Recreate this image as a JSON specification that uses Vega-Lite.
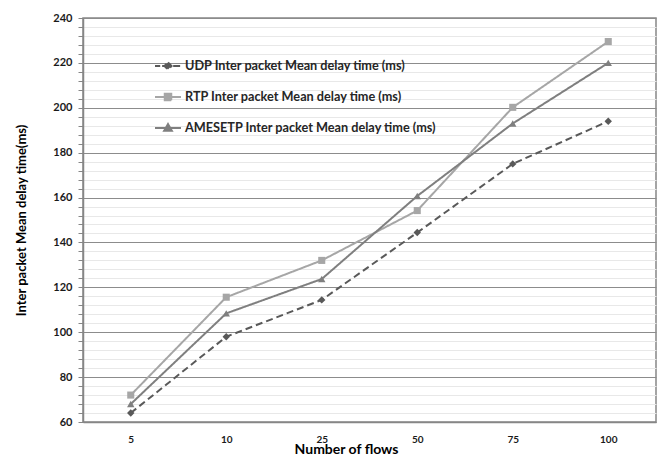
{
  "$schema": "https://vega.github.io/schema/vega-lite/v6.json",
  "width": 573,
  "height": 404,
  "autosize": {"type": "none"},
  "padding": {"left": 83, "top": 18, "right": 6, "bottom": 33},
  "background": "white",
  "config": {"view": {"stroke": "#868686", "strokeWidth": 1.5}, "font": "Lato"},
  "data": {"values": [
    {"flows": "5", "series": "UDP Inter packet Mean delay time (ms)", "delay": 64},
    {"flows": "10", "series": "UDP Inter packet Mean delay time (ms)", "delay": 98},
    {"flows": "25", "series": "UDP Inter packet Mean delay time (ms)", "delay": 114.4},
    {"flows": "50", "series": "UDP Inter packet Mean delay time (ms)", "delay": 144.4},
    {"flows": "75", "series": "UDP Inter packet Mean delay time (ms)", "delay": 175},
    {"flows": "100", "series": "UDP Inter packet Mean delay time (ms)", "delay": 194},
    {"flows": "5", "series": "RTP Inter packet Mean delay time (ms)", "delay": 72},
    {"flows": "10", "series": "RTP Inter packet Mean delay time (ms)", "delay": 115.6},
    {"flows": "25", "series": "RTP Inter packet Mean delay time (ms)", "delay": 132},
    {"flows": "50", "series": "RTP Inter packet Mean delay time (ms)", "delay": 154.2},
    {"flows": "75", "series": "RTP Inter packet Mean delay time (ms)", "delay": 200.2},
    {"flows": "100", "series": "RTP Inter packet Mean delay time (ms)", "delay": 229.5},
    {"flows": "5", "series": "AMESETP Inter packet Mean delay time (ms)", "delay": 68},
    {"flows": "10", "series": "AMESETP Inter packet Mean delay time (ms)", "delay": 108.4},
    {"flows": "25", "series": "AMESETP Inter packet Mean delay time (ms)", "delay": 123.7},
    {"flows": "50", "series": "AMESETP Inter packet Mean delay time (ms)", "delay": 160.7},
    {"flows": "75", "series": "AMESETP Inter packet Mean delay time (ms)", "delay": 193},
    {"flows": "100", "series": "AMESETP Inter packet Mean delay time (ms)", "delay": 220}
  ]},
  "encoding": {
    "x": {
      "field": "flows", "type": "ordinal",
      "sort": ["5", "10", "25", "50", "75", "100"],
      "scale": {"type": "point", "padding": 0.5},
      "axis": {
        "title": "Number of flows", "labelAngle": 0, "ticks": false,
        "labelFontWeight": "bold", "labelFontSize": 10, "labelColor": "#1a1a1a", "labelPadding": 12,
        "domainColor": "#868686", "domainWidth": 1.5, "grid": false,
        "titleFontSize": 14, "titleFontWeight": "bold", "titleColor": "#000000",
        "titleX": 263, "titleY": 31, "titleBaseline": "alphabetic", "titleAlign": "center"
      }
    },
    "y": {
      "field": "delay", "type": "quantitative",
      "scale": {"domain": [60, 240], "nice": false, "zero": false},
      "axis": {
        "title": "Inter packet Mean delay time(ms)",
        "values": [60,64,68,72,76,80,84,88,92,96,100,104,108,112,116,120,124,128,132,136,140,144,148,152,156,160,164,168,172,176,180,184,188,192,196,200,204,208,212,216,220,224,228,232,236,240],
        "labelExpr": "datum.value % 20 === 0 ? datum.label : ''",
        "labelOverlap": false, "labelFontWeight": "bold", "labelFontSize": 11, "labelColor": "#1a1a1a",
        "labelPadding": 6, "tickSize": 5, "tickColor": "#868686",
        "domainColor": "#868686", "domainWidth": 1.5,
        "gridColor": {"condition": {"test": "datum.value % 20 === 0", "value": "#8c8c8c"}, "value": "#e8e8e8"},
        "gridWidth": 1,
        "titleFontSize": 13, "titleFontWeight": "bold", "titleColor": "#000000",
        "titleX": -62, "titleY": 202, "titleBaseline": "middle", "titleAngle": 270, "titleAlign": "center"
      }
    }
  },
  "layer": [
    {
      "mark": {"type": "line", "strokeWidth": 2},
      "encoding": {
        "color": {
          "field": "series", "type": "nominal",
          "scale": {
            "domain": ["UDP Inter packet Mean delay time (ms)", "RTP Inter packet Mean delay time (ms)", "AMESETP Inter packet Mean delay time (ms)"],
            "range": ["#595959", "#a6a6a6", "#7f7f7f"]
          },
          "legend": {
            "title": null, "orient": "none", "legendX": 71, "legendY": 34,
            "symbolSize": 676, "symbolStrokeWidth": 2,
            "labelFont": "Lato", "labelFontWeight": "bold", "labelFontSize": 12.7, "labelColor": "#262626",
            "labelOffset": 3, "rowPadding": 9, "padding": 0, "labelLimit": 400,
            "encode": {
              "symbols": {
                "update": {
                  "shape": {"signal": "datum.value == 'UDP Inter packet Mean delay time (ms)' ? 'M-1,0H-0.6M-0.45,0H1M0,-0.27L0.27,0L0,0.27L-0.27,0Z' : datum.value == 'RTP Inter packet Mean delay time (ms)' ? 'M-1,0H1M-0.25,-0.25H0.25V0.25H-0.25Z' : 'M-1,0H1M0,-0.3L0.3,0.22L-0.3,0.22Z'"},
                  "fill": {"scale": "color", "field": "value"},
                  "stroke": {"scale": "color", "field": "value"},
                  "opacity": {"value": 1},
                  "strokeDash": {"value": [1, 0]},
                  "strokeWidth": {"value": 2}
                }
              }
            }
          }
        },
        "strokeDash": {
          "field": "series", "type": "nominal",
          "scale": {
            "domain": ["UDP Inter packet Mean delay time (ms)", "RTP Inter packet Mean delay time (ms)", "AMESETP Inter packet Mean delay time (ms)"],
            "range": [[7, 4], [1, 0], [1, 0]]
          },
          "legend": null
        }
      }
    },
    {
      "transform": [{"filter": "datum.series == 'UDP Inter packet Mean delay time (ms)'"}],
      "mark": {"type": "point", "filled": true, "opacity": 1, "size": 55, "shape": "diamond", "color": "#595959"}
    },
    {
      "transform": [{"filter": "datum.series == 'RTP Inter packet Mean delay time (ms)'"}],
      "mark": {"type": "point", "filled": true, "opacity": 1, "size": 50, "shape": "square", "color": "#a6a6a6"}
    },
    {
      "transform": [{"filter": "datum.series == 'AMESETP Inter packet Mean delay time (ms)'"}],
      "mark": {"type": "point", "filled": true, "opacity": 1, "size": 55, "shape": "triangle-up", "color": "#7f7f7f"}
    }
  ]
}
